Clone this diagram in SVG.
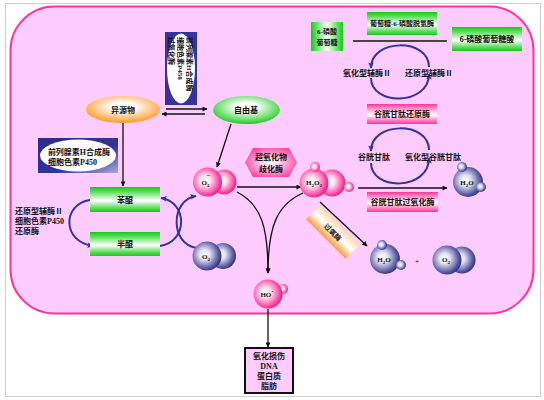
<svg xmlns="http://www.w3.org/2000/svg" width="544" height="400" viewBox="0 0 544 400">
<defs>
<style>
.t{font-family:"Liberation Serif","Noto Sans CJK SC",serif;font-weight:bold;font-size:8px;fill:#111;text-anchor:middle}
.s{font-size:7px}
.l{text-anchor:start}
.k{fill:none;stroke:#111;stroke-width:1.3;marker-end:url(#ab)}
.b{fill:none;stroke:#333399;stroke-width:2;marker-end:url(#au)}
.ps{fill:url(#gp)}
.bs{fill:url(#gb)}
</style>
<marker id="ab" viewBox="0 0 10 10" refX="9" refY="5" markerUnits="userSpaceOnUse" markerWidth="6" markerHeight="5" orient="auto"><path d="M0,0 L10,5 L0,10 z" fill="#111"/></marker>
<marker id="au" viewBox="0 0 10 10" refX="8" refY="5" markerUnits="userSpaceOnUse" markerWidth="7" markerHeight="7" orient="auto"><path d="M0,1 L9,5 L0,9 L2,5 z" fill="#333399"/></marker>
<radialGradient id="gp" cx="0.42" cy="0.45" r="0.6"><stop offset="0" stop-color="#fff"/><stop offset="0.3" stop-color="#ffe0f0"/><stop offset="0.75" stop-color="#ff55aa"/><stop offset="1" stop-color="#e8157a"/></radialGradient>
<radialGradient id="gb" cx="0.42" cy="0.45" r="0.6"><stop offset="0" stop-color="#fff"/><stop offset="0.3" stop-color="#e2e2f2"/><stop offset="0.75" stop-color="#6464aa"/><stop offset="1" stop-color="#2a2a78"/></radialGradient>
<radialGradient id="go" cx="0.5" cy="0.4" r="0.6"><stop offset="0" stop-color="#fff"/><stop offset="0.25" stop-color="#fff"/><stop offset="1" stop-color="#ff9922"/></radialGradient>
<radialGradient id="gg" cx="0.5" cy="0.4" r="0.6"><stop offset="0" stop-color="#fff"/><stop offset="0.25" stop-color="#fff"/><stop offset="1" stop-color="#22cc22"/></radialGradient>
<radialGradient id="gh" cx="0.5" cy="0.5" r="0.6"><stop offset="0" stop-color="#fff"/><stop offset="0.3" stop-color="#ffd0e8"/><stop offset="1" stop-color="#ff3399"/></radialGradient>
<linearGradient id="vg" x1="0" y1="0" x2="0" y2="1"><stop offset="0" stop-color="#11cc11"/><stop offset="0.18" stop-color="#55dd55"/><stop offset="0.55" stop-color="#fff"/><stop offset="0.82" stop-color="#66dd66"/><stop offset="1" stop-color="#11cc11"/></linearGradient>
<linearGradient id="hg" x1="0" y1="0" x2="1" y2="0"><stop offset="0" stop-color="#11cc11"/><stop offset="0.5" stop-color="#fff"/><stop offset="1" stop-color="#11cc11"/></linearGradient>
<linearGradient id="vp" x1="0" y1="0" x2="0" y2="1"><stop offset="0" stop-color="#ff3399"/><stop offset="0.2" stop-color="#ff88c4"/><stop offset="0.55" stop-color="#fff"/><stop offset="0.8" stop-color="#ff88c4"/><stop offset="1" stop-color="#ff3399"/></linearGradient>
<linearGradient id="vo" x1="0" y1="0" x2="0" y2="1"><stop offset="0" stop-color="#ffd9b0"/><stop offset="0.5" stop-color="#fff"/><stop offset="1" stop-color="#ff9933"/></linearGradient>
<linearGradient id="bl" x1="0" y1="0" x2="1" y2="1"><stop offset="0" stop-color="#2c2c88"/><stop offset="0.6" stop-color="#33339a"/><stop offset="1" stop-color="#a8a8dd"/></linearGradient>
</defs>

<rect x="5.5" y="3.5" width="535" height="393" fill="#fff" stroke="#cfcfcf"/>
<rect id="cell" x="10.5" y="6.5" width="523" height="307" rx="44" fill="#ffccff" stroke="#ff3399" stroke-width="2"/>

<g id="connectors">
<path class="k" d="M166,109 L207,109"/>
<path class="k" d="M205,114 L162,114"/>
<path class="k" d="M123,123 L123,186"/>
<path class="k" d="M231,124 L217,167"/>
<path class="k" d="M237,187 L301,187"/>
<path class="k" d="M358,188 L447,188"/>
<path class="k" d="M320,202 L367,246"/>
<path class="k" d="M237,192 C262,205 268,228 268,273"/>
<path class="k" d="M303,193 C276,205 268,228 268,273"/>
<path class="k" d="M268,309 L268,347"/>
<path d="M353,41 L447,41" stroke="#111" stroke-width="1.3"/>
<path class="b" d="M90,200 C62,204 62,242 93,246"/>
<path class="b" d="M160,246 C188,242 188,202 161,198"/>
<path class="b" d="M197,248 C170,245 170,200 196,196"/>
<path class="b" d="M429,67 C429,38 371,38 371,68"/>
<path class="b" d="M371,78 C371,106 429,106 429,74"/>
<path class="b" d="M429,150 C429,121 371,121 371,151"/>
<path class="b" d="M371,163 C371,191 429,191 429,158"/>
</g>

<g id="enzyme-vertical">
<rect x="165" y="32" width="32" height="73" fill="#33339a"/>
<ellipse cx="181" cy="68.5" rx="14" ry="35" fill="#fff"/>
<g transform="translate(181,68) rotate(90)">
<text class="t s l" x="-31" y="-6">前列腺素H合成酶</text>
<text class="t s l" x="-31" y="3">细胞色素P450</text>
<text class="t s l" x="-31" y="12">过氧化酶</text>
</g>
</g>

<g id="enzyme-left">
<rect x="38" y="138" width="80" height="35" fill="url(#bl)"/>
<ellipse cx="78" cy="155.5" rx="38" ry="16" fill="#fff"/>
<text class="t" x="79" y="155">前列腺素H合成酶</text>
<text class="t l" x="48" y="165">细胞色素P450</text>
</g>

<g id="xenobiotic">
<ellipse cx="123" cy="109.5" rx="37" ry="13.5" fill="url(#go)"/>
<text class="t" x="123" y="112.5">异源物</text>
</g>

<g id="free-radical">
<ellipse cx="246.5" cy="110" rx="33.5" ry="14" fill="url(#gg)"/>
<text class="t" x="246" y="113">自由基</text>
</g>

<g id="quinone">
<rect x="90" y="187" width="70" height="25" fill="url(#vg)"/>
<text class="t" x="125" y="203">苯醌</text>
</g>

<g id="semiquinone">
<rect x="90" y="232" width="70" height="24" fill="url(#vg)"/>
<text class="t" x="125" y="247">半醌</text>
</g>

<g id="reductase-label">
<text class="t l" x="15" y="214">还原型辅酶Ⅱ</text>
<text class="t l" x="15" y="224">细胞色素P450</text>
<text class="t l" x="15" y="234">还原酶</text>
</g>

<g id="superoxide">
<circle class="ps" cx="224" cy="182" r="12.5"/>
<circle class="ps" cx="207.5" cy="182" r="14.5"/>
<text class="t s" x="206" y="185">O<tspan font-size="5" dy="2">2</tspan><tspan font-size="7" dx="-3" dy="-9">−</tspan></text>
</g>

<g id="oxygen">
<circle class="bs" cx="223" cy="256" r="13"/>
<circle class="bs" cx="207" cy="256" r="14.5"/>
<text class="t s" x="206" y="259">O<tspan font-size="5" dy="2">2</tspan></text>
</g>

<g id="sod">
<polygon points="245,162.5 253,148 289,148 297,162.5 289,177 253,177" fill="url(#gh)"/>
<text class="t" x="271" y="160">超氧化物</text>
<text class="t" x="271" y="172">歧化酶</text>
</g>

<g id="h2o2">
<circle class="ps" cx="332" cy="183" r="13.5"/>
<circle class="ps" cx="349" cy="187" r="5"/>
<circle class="ps" cx="314" cy="183" r="14.5"/>
<circle class="ps" cx="315" cy="167" r="5"/>
<text class="t s" x="314" y="185">H<tspan font-size="5" dy="2">2</tspan><tspan dy="-2">O</tspan><tspan font-size="5" dy="2">2</tspan></text>
</g>

<g id="catalase">
<g transform="translate(333,232) rotate(45)">
<rect x="-28" y="-10" width="56" height="20" fill="url(#vo)"/>
<text class="t s" x="0" y="3">过氧酶</text>
</g>
</g>

<g id="water-1">
<circle class="bs" cx="468" cy="182" r="15"/>
<circle class="bs" cx="462" cy="167" r="5"/>
<circle class="bs" cx="481" cy="187" r="5"/>
<text class="t s" x="467" y="185">H<tspan font-size="5" dy="2">2</tspan><tspan dy="-2">O</tspan></text>
</g>

<g id="water-2">
<circle class="bs" cx="385" cy="259" r="15"/>
<circle class="bs" cx="382" cy="245" r="5"/>
<circle class="bs" cx="401" cy="265" r="5"/>
<text class="t s" x="384" y="262">H<tspan font-size="5" dy="2">2</tspan><tspan dy="-2">O</tspan></text>
</g>

<text class="t s" x="417" y="264">+</text>

<g id="oxygen-2">
<circle class="bs" cx="462" cy="260" r="13.5"/>
<circle class="bs" cx="447" cy="260" r="14.5"/>
<text class="t s" x="446" y="262">O<tspan font-size="5" dy="2">2</tspan></text>
</g>

<g id="hydroxyl">
<circle class="ps" cx="283" cy="289" r="5"/>
<circle class="ps" cx="268" cy="294" r="14.5"/>
<text class="t s" x="267" y="297">HO<tspan dy="-3">·</tspan></text>
</g>

<g id="damage">
<rect x="245" y="348" width="48" height="45" fill="#ffccff" stroke="#111" stroke-width="2"/>
<text class="t" x="269" y="359">氧化损伤</text>
<text class="t" x="269" y="369">DNA</text>
<text class="t" x="269" y="379">蛋白质</text>
<text class="t" x="269" y="389">脂肪</text>
</g>

<g id="g6p">
<rect x="311" y="22" width="32" height="29" fill="url(#hg)"/>
<text class="t s" x="327" y="34">6-磷酸</text>
<text class="t s" x="327" y="45">葡萄糖</text>
</g>

<g id="g6pd">
<rect x="367" y="12" width="70" height="23" fill="url(#vg)"/>
<text class="t s" x="402" y="26">葡萄糖-6-磷酸脱氢酶</text>
</g>

<g id="6pg">
<rect x="452" y="27" width="70" height="24" fill="url(#vg)"/>
<text class="t" x="487" y="42">6-磷酸葡萄糖酸</text>
</g>

<g id="nadp-cycle-labels">
<text class="t" x="367" y="76">氧化型辅酶Ⅱ</text>
<text class="t" x="429" y="76">还原型辅酶Ⅱ</text>
</g>

<g id="gr">
<rect x="367" y="104" width="70" height="20" fill="url(#vp)"/>
<text class="t" x="402" y="117">谷胱甘肽还原酶</text>
</g>

<g id="gsh-cycle-labels">
<text class="t" x="374" y="160">谷胱甘肽</text>
<text class="t" x="433" y="160">氧化型谷胱甘肽</text>
</g>

<g id="gpx">
<rect x="367" y="192" width="71" height="20" fill="url(#vp)"/>
<text class="t" x="402.5" y="205">谷胱甘肽过氧化酶</text>
</g>
</svg>
